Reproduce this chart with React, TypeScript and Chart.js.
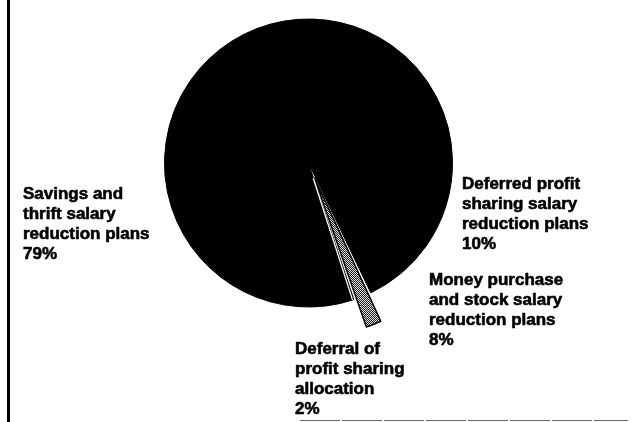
import React, { useEffect, useRef } from "react";
import { Chart, registerables } from "chart.js";

Chart.register(...registerables);

// Category names (split into the printed lines) and their shares in percent
const categories: string[][] = [
  ["Savings and", "thrift salary", "reduction plans"],
  ["Deferred profit", "sharing salary", "reduction plans"],
  ["Money purchase", "and stock salary", "reduction plans"],
  ["Deferral of", "profit sharing", "allocation"],
];
const values: number[] = [79, 10, 8, 2];

// Layout of the annotation blocks (left x, cap-top y of first line)
const labelAnchors = [
  { x: 23, y: 187 },
  { x: 462, y: 177 },
  { x: 429, y: 273 },
  { x: 295, y: 342 },
];

const FONT = 'bold 17px "Liberation Sans", Arial, sans-serif';
const LINE_H = 20;
const EXPLODE = 64;

export default function App() {
  const ref = useRef<HTMLCanvasElement | null>(null);

  useEffect(() => {
    const canvas = ref.current;
    if (!canvas) return;
    const ctx = canvas.getContext("2d")!;

    // fine checker pattern for the hatched slice
    const pc = document.createElement("canvas");
    pc.width = 2;
    pc.height = 2;
    const p = pc.getContext("2d")!;
    p.fillStyle = "#ffffff";
    p.fillRect(0, 0, 2, 2);
    p.fillStyle = "#000000";
    p.fillRect(0, 0, 1, 1);
    p.fillRect(1, 1, 1, 1);
    const pattern = ctx.createPattern(pc, "repeat")!;

    const framePlugin = {
      id: "frame",
      beforeDraw(chart: any) {
        const c = chart.ctx;
        c.save();
        c.fillStyle = "#ffffff";
        c.fillRect(0, 0, chart.width, chart.height);
        c.fillStyle = "#000000";
        c.fillRect(7, 0, 3, chart.height);
        c.strokeStyle = "#666666";
        c.lineWidth = 1;
        c.setLineDash([40, 2]);
        c.beginPath();
        c.moveTo(300, chart.height - 1.5);
        c.lineTo(628, chart.height - 1.5);
        c.stroke();
        c.restore();
      },
      afterDatasetsDraw(chart: any) {
        // thin white separation along the exploded slice's trailing edge
        const meta = chart.getDatasetMeta(0);
        const arc = meta.data[3];
        const big = meta.data[0];
        if (!arc || !big) return;
        const { x, y, startAngle, endAngle } = arc.getProps(["x", "y", "startAngle", "endAngle"]);
        const R = big.getProps(["outerRadius"]).outerRadius;
        const mid = (startAngle + endAngle) / 2;
        const tx = x + Math.cos(mid) * (EXPLODE / 4);
        const ty = y + Math.sin(mid) * (EXPLODE / 4);
        const nx = Math.cos(endAngle + Math.PI / 2) * 1.3;
        const ny = Math.sin(endAngle + Math.PI / 2) * 1.3;
        const c = chart.ctx;
        c.save();
        c.strokeStyle = "#ffffff";
        c.lineWidth = 1.3;
        c.beginPath();
        c.moveTo(tx + nx, ty + ny);
        c.lineTo(x + Math.cos(endAngle) * R + nx, y + Math.sin(endAngle) * R + ny);
        c.stroke();
        c.restore();
      },
      afterDraw(chart: any) {
        const c = chart.ctx;
        c.save();
        c.font = FONT;
        c.fillStyle = "#000000";
        c.strokeStyle = "#000000";
        c.lineWidth = 0.6;
        c.lineJoin = "round";
        c.textBaseline = "alphabetic";
        c.textAlign = "left";
        categories.forEach((lines, i) => {
          const a = labelAnchors[i];
          const all = [...lines, `${values[i]}%`];
          all.forEach((t, j) => {
            const yy = a.y + 12.4 + j * LINE_H;
            c.fillText(t, a.x, yy);
            c.strokeText(t, a.x, yy);
          });
        });
        c.restore();
      },
    };

    const chart = new Chart(canvas, {
      type: "pie",
      data: {
        labels: categories.map((l) => l.join(" ")),
        datasets: [
          {
            data: values,
            backgroundColor: ["#000000", "#000000", "#000000", pattern as any],
            borderColor: "#000000",
            borderWidth: [1, 1, 1, 1.5],
            offset: [0, 0, 0, EXPLODE],
            hoverOffset: [0, 0, 0, EXPLODE],
          } as any,
        ],
      },
      options: {
        responsive: false,
        animation: false,
        events: [],
        radius: 144,
        rotation: 161.64,
        layout: { padding: { left: 0, right: 14, top: 0, bottom: 96 } },
        plugins: {
          legend: { display: false },
          tooltip: { enabled: false },
          title: { display: false },
        },
      } as any,
      plugins: [framePlugin],
    });

    return () => chart.destroy();
  }, []);

  return (
    <div style={{ position: "fixed", left: 0, top: 0, width: 631, height: 422 }}>
      <canvas ref={ref} width={631} height={422} style={{ display: "block" }} />
    </div>
  );
}
